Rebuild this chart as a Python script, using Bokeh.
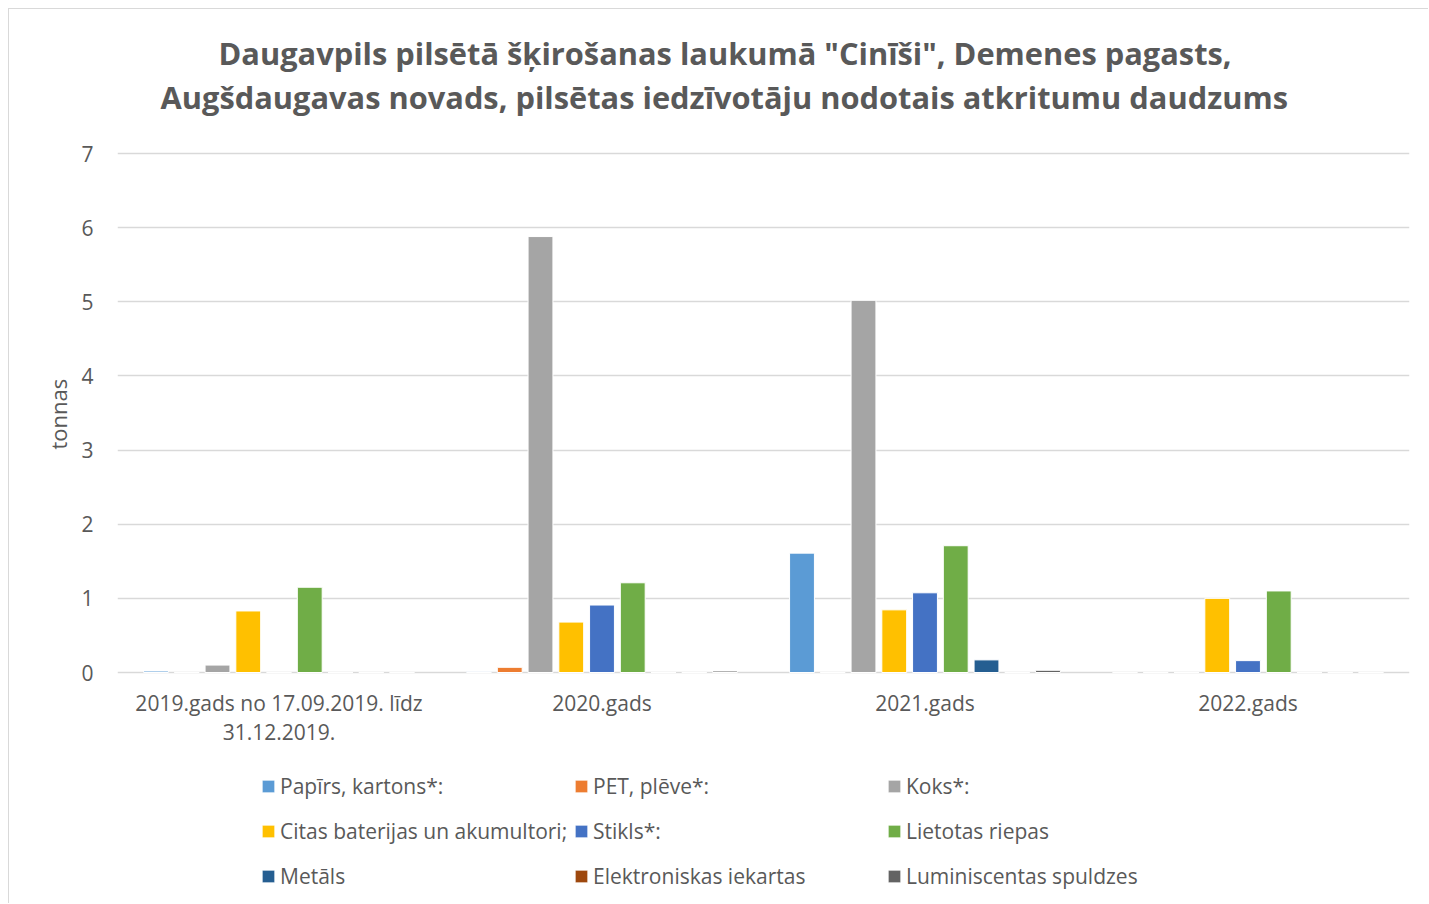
from bokeh.plotting import figure
from bokeh.models import (ColumnDataSource, FactorRange, Range1d, FixedTicker,
                          Legend, LegendItem, Title)
from bokeh.transform import dodge
from bokeh.core.properties import value
from bokeh.embed import file_html
from bokeh.resources import INLINE

# ---- data ----
categories = ["2019.gads no 17.09.2019. līdz\n31.12.2019.", "2020.gads", "2021.gads", "2022.gads"]
series_names = ["Papīrs, kartons*:", "PET, plēve*:", "Koks*:",
                "Citas baterijas un akumultori;", "Stikls*:", "Lietotas riepas",
                "Metāls", "Elektroniskas iekartas", "Luminiscentas spuldzes"]
papirs = [0.02, 0.01, 1.61, 0.0]
pet = [0.0, 0.07, 0.0, 0.0]
koks = [0.10, 5.88, 5.02, 0.0]
citas_baterijas = [0.83, 0.68, 0.845, 1.0]
stikls = [0.0, 0.91, 1.075, 0.16]
riepas = [1.15, 1.21, 1.71, 1.10]
metals = [0.0, 0.0, 0.17, 0.0]
elektronika = [0.0, 0.0, 0.0, 0.0]
spuldzes = [0.0, 0.02, 0.03, 0.0]
y_ticks = [0, 1, 2, 3, 4, 5, 6, 7]
title_lines = ["Daugavpils pilsētā šķirošanas laukumā \"Cinīši\", Demenes pagasts,",
               "Augšdaugavas novads, pilsētas iedzīvotāju nodotais atkritumu daudzums"]
y_label = "tonnas"

colors = ["#5B9BD5", "#ED7D31", "#A5A5A5", "#FFC000", "#4472C4", "#70AD47",
          "#255E91", "#9E480E", "#636363"]
values = [papirs, pet, koks, citas_baterijas, stikls, riepas, metals, elektronika, spuldzes]
keys = ["s%d" % i for i in range(len(values))]

data = {"cat": categories}
for k, v in zip(keys, values):
    data[k] = v
source = ColumnDataSource(data)

FONT = "Open Sans"
TXT = "#595959"

# geometry (canvas pixels)
PX_PER_UNIT = 74.14
CANVAS_H = 895
FRAME_TOP = 110          # canvas y of frame top
ZERO_Y = 663             # canvas y of value 0
Y_TOP = (ZERO_Y - FRAME_TOP) / PX_PER_UNIT
Y_BOTTOM = -(CANVAS_H - ZERO_Y) / PX_PER_UNIT

p = figure(width=1420, height=CANVAS_H, output_backend="svg", toolbar_location=None,
           x_range=FactorRange(factors=categories, range_padding=0),
           y_range=Range1d(Y_BOTTOM, Y_TOP), x_axis_location=None,
           min_border_left=108, min_border_right=20, min_border_top=FRAME_TOP,
           min_border_bottom=0)
p.styles = {"margin-left": "8px", "margin-top": "8px",
            "border-left": "1px solid #d9d9d9", "border-top": "1px solid #d9d9d9"}
p.outline_line_color = None
p.background_fill_color = "white"
p.border_fill_color = "white"

step = 0.0952
renderers = []
for i, k in enumerate(keys):
    r = p.vbar(x=dodge("cat", (i - 4) * step, range=p.x_range), top=k, width=0.077,
               source=source, fill_color=colors[i], line_color="white", line_width=1)
    renderers.append(r)

# category labels under the zero line
p.text(x="cat", y=-16 / PX_PER_UNIT, text="cat", source=source,
       text_font=value(FONT), text_font_size="21px", text_color=TXT,
       text_align="center", text_baseline="top", text_line_height=1.07)

# grid
p.xgrid.grid_line_color = None
p.ygrid.grid_line_color = "#d9d9d9"
p.ygrid.grid_line_width = 1.5
p.yaxis.ticker = FixedTicker(ticks=y_ticks)
p.ygrid.ticker = FixedTicker(ticks=y_ticks)

# y axis
p.yaxis.bounds = (0, 7)
p.yaxis.axis_line_color = None
p.yaxis.major_tick_line_color = None
p.yaxis.minor_tick_line_color = None
p.yaxis.major_label_text_font = FONT
p.yaxis.major_label_text_font_size = "21px"
p.yaxis.major_label_text_color = TXT
p.yaxis.major_label_standoff = 18

# y-axis title as a side title positioned along the 0..7 span
ylab = Title(text=y_label, align="left", offset=CANVAS_H - 440, text_font=FONT,
             text_font_size="22px", text_color=TXT, text_font_style="normal",
             standoff=12)
p.add_layout(ylab, "left")

# chart title: line 2 first (closest to plot), then line 1
t2 = Title(text=title_lines[1], align="left", offset=43, text_font=FONT,
           text_font_size="30.8px", text_color=TXT, text_font_style="bold", standoff=4)
t1 = Title(text=title_lines[0], align="left", offset=101, text_font=FONT,
           text_font_size="30.8px", text_color=TXT, text_font_style="bold", standoff=-4)
p.add_layout(t2, "above")
p.add_layout(t1, "above")

# legend: three columns inside the lower part of the frame
col_x = [143, 456, 769]
for c in range(3):
    items = [LegendItem(label=series_names[c + 3 * r], renderers=[renderers[c + 3 * r]])
             for r in range(3)]
    lg = Legend(items=items, location=(col_x[c], 14), orientation="vertical",
                glyph_width=16, glyph_height=16, label_height=28, label_standoff=4,
                spacing=17, padding=0, margin=0, border_line_color=None,
                background_fill_alpha=0, label_text_font=FONT,
                label_text_font_size="21px", label_text_color=TXT)
    p.add_layout(lg)

open("out.html", "w").write(file_html(p, INLINE))
